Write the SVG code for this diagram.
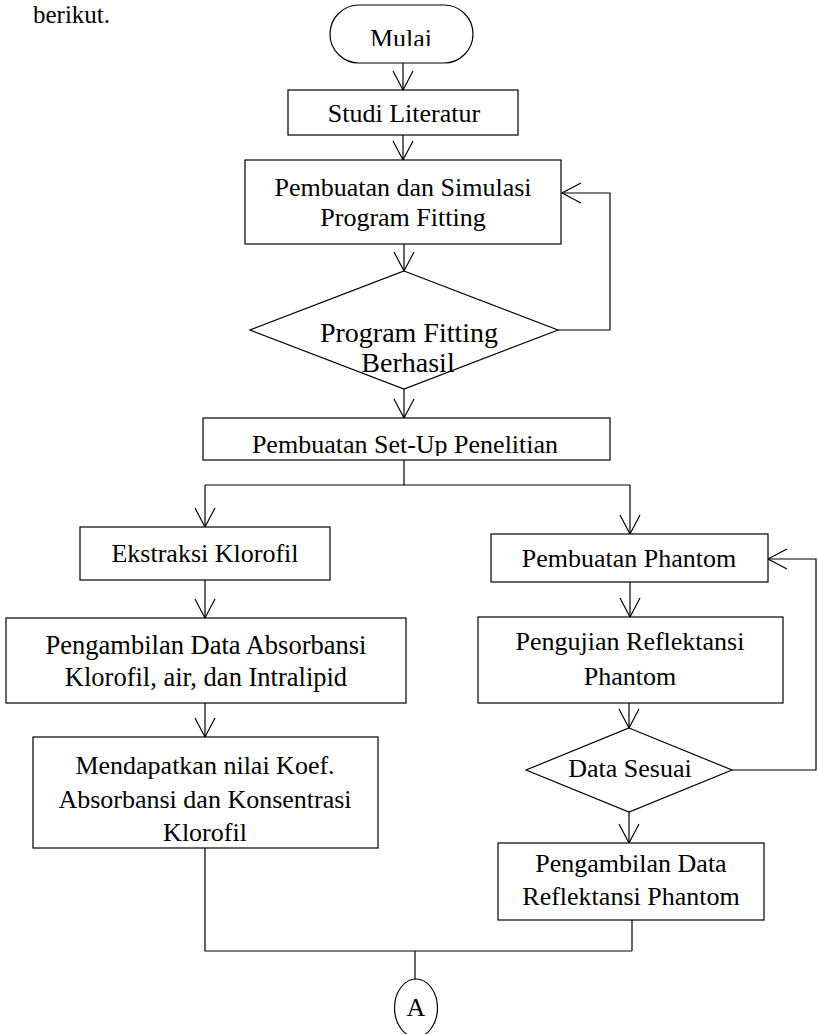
<svg xmlns="http://www.w3.org/2000/svg" width="818" height="1034" viewBox="0 0 818 1034">
<style>
.n{fill:#fff;stroke:#000;stroke-width:1.2}
.t{font-family:"Liberation Serif","Times New Roman",serif;font-size:26px;fill:#000;text-anchor:middle}
.c{fill:none;stroke:#000;stroke-width:1.2}
</style>
<defs>
<marker id="ah" markerUnits="userSpaceOnUse" markerWidth="20" markerHeight="20" refX="0" refY="0" orient="auto" overflow="visible">
<path d="M-19,-10 L0,0 L-19,10" fill="none" stroke="#000" stroke-width="1.2"/>
</marker>
<clipPath id="clipMulai"><rect x="330" y="5" width="143" height="41"/></clipPath>
<clipPath id="clipSetup"><rect x="203" y="418" width="407" height="38"/></clipPath>
</defs>
<rect width="818" height="1034" fill="#fff"/>
<text x="33" y="23" style="font-family:'Liberation Serif','Times New Roman',serif;font-size:25px;fill:#000">berikut.</text>
<g id="connectors">
<path class="c" d="M403,57 V90" marker-end="url(#ah)"/>
<path class="c" d="M403,135 V160" marker-end="url(#ah)"/>
<path class="c" d="M404,244 V271" marker-end="url(#ah)"/>
<path class="c" d="M404,389 V418" marker-end="url(#ah)"/>
<path class="c" d="M558,330 H610 V193 H562" marker-end="url(#ah)"/>
<path class="c" d="M404,460 V485"/>
<path class="c" d="M205,485 H630"/>
<path class="c" d="M205,485 V527" marker-end="url(#ah)"/>
<path class="c" d="M630,485 V534" marker-end="url(#ah)"/>
<path class="c" d="M205,580 V618" marker-end="url(#ah)"/>
<path class="c" d="M205,703 V737" marker-end="url(#ah)"/>
<path class="c" d="M205,848 V951 H632"/>
<path class="c" d="M630,582 V617" marker-end="url(#ah)"/>
<path class="c" d="M629,703 V728" marker-end="url(#ah)"/>
<path class="c" d="M629,812 V843" marker-end="url(#ah)"/>
<path class="c" d="M732,770 H816 V559 H768" marker-end="url(#ah)"/>
<path class="c" d="M632,920 V951"/>
<path class="c" d="M415,951 V979"/>
</g>
<g id="mulai"><rect class="n" x="330" y="5" width="143" height="58" rx="29"/><text class="t" x="401" y="47" clip-path="url(#clipMulai)">Mulai</text></g>
<g id="studi"><rect class="n" x="288" y="90" width="230" height="45"/><text class="t" x="404" y="122">Studi Literatur</text></g>
<g id="simulasi"><rect class="n" x="245" y="160" width="316" height="84"/><text class="t" x="403" y="196">Pembuatan dan Simulasi</text><text class="t" x="403" y="226">Program Fitting</text></g>
<g id="berhasil"><polygon class="n" points="404,271 558,330 404,389 250,330"/><text class="t" x="409" y="342" style="font-size:28px">Program Fitting</text><text class="t" x="408" y="372" style="font-size:28px">Berhasil</text></g>
<g id="setup"><rect class="n" x="203" y="418" width="407" height="42"/><text class="t" x="405" y="453" clip-path="url(#clipSetup)">Pembuatan Set-Up Penelitian</text></g>
<g id="ekstraksi"><rect class="n" x="80" y="527" width="250" height="53"/><text class="t" x="205" y="562">Ekstraksi Klorofil</text></g>
<g id="absorbansi"><rect class="n" x="6" y="618" width="400" height="85"/><text class="t" x="206" y="654" style="font-size:26.5px">Pengambilan Data Absorbansi</text><text class="t" x="206" y="686" style="font-size:26.5px">Klorofil, air, dan Intralipid</text></g>
<g id="koef"><rect class="n" x="33" y="737" width="345" height="111"/><text class="t" x="205" y="774">Mendapatkan nilai Koef.</text><text class="t" x="205" y="808">Absorbansi dan Konsentrasi</text><text class="t" x="205" y="841">Klorofil</text></g>
<g id="phantom"><rect class="n" x="491" y="534" width="277" height="48"/><text class="t" x="629" y="567">Pembuatan Phantom</text></g>
<g id="pengujian"><rect class="n" x="478" y="617" width="305" height="86"/><text class="t" x="630" y="650">Pengujian Reflektansi</text><text class="t" x="630" y="685">Phantom</text></g>
<g id="sesuai"><polygon class="n" points="629,728 732,770 629,812 526,770"/><text class="t" x="630" y="777">Data Sesuai</text></g>
<g id="reflektansi"><rect class="n" x="498" y="843" width="266" height="77"/><text class="t" x="631" y="872">Pengambilan Data</text><text class="t" x="631" y="905">Reflektansi Phantom</text></g>
<g id="a"><ellipse class="n" cx="416" cy="1008" rx="21.5" ry="29"/><text class="t" x="416" y="1016">A</text></g>
</svg>
